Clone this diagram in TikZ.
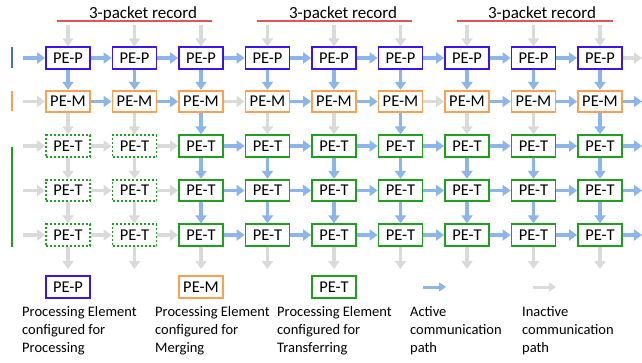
\documentclass[tikz,border=0pt]{standalone}
\usepackage{fontspec}
\setmainfont{Carlito}
\usetikzlibrary{arrows.meta}
\definecolor{pcol}{RGB}{60,20,240}
\definecolor{mcol}{RGB}{250,160,80}
\definecolor{tcol}{RGB}{30,160,30}
\definecolor{acol}{RGB}{140,182,235}
\definecolor{icol}{RGB}{218,218,218}
\definecolor{rcol}{RGB}{225,85,85}
\definecolor{bcol}{RGB}{70,100,240}
\begin{document}
\begin{tikzpicture}[x=1pt,y=-1pt,
  pebox/.style={draw, line width=1.8pt, minimum width=44pt, minimum height=21.5pt, inner sep=0pt, fill=white, font=\fontsize{16.5}{18}\selectfont},
  pep/.style={pebox, draw=pcol},
  pem/.style={pebox, draw=mcol},
  pet/.style={pebox, draw=tcol},
  petoff/.style={pebox, draw=tcol, dash pattern=on 2pt off 2pt},
  link/.style={line width=3.5pt, -{Triangle[width=11pt,length=8pt]}},
  act/.style={link, draw=acol},
  inact/.style={link, draw=icol},
  legarrow/.style={line width=3pt, -{Triangle[width=9pt,length=7pt]}},
  sidebar/.style={line width=2.5pt},
  recline/.style={line width=2.5pt, draw=rcol},
  rectext/.style={anchor=base, font=\fontsize{17}{20}\selectfont},
  legtext/.style={anchor=north west, align=left, inner sep=0pt, font=\fontsize{14.5}{18}\selectfont}
]
\useasboundingbox (0,0) rectangle (642,362);

% record headings
\foreach \i/\a/\b/\t in {1/57/212/143, 2/257/412/343, 3/457/613/542} {
  \coordinate (ra\i) at (\a,21);
  \coordinate (rb\i) at (\b,21);
  \node[rectext] (rh\i) at (\t,18.5) {3-packet record};
  \draw[recline] (ra\i) -- (rb\i);
}

% side bars
\coordinate (bp1) at (12,47);  \coordinate (bp2) at (12,68);
\coordinate (bm1) at (12,91);  \coordinate (bm2) at (12,111);
\coordinate (bt1) at (12,147); \coordinate (bt2) at (12,247);
\draw[sidebar, bcol] (bp1) -- (bp2);
\draw[sidebar, mcol] (bm1) -- (bm2);
\draw[sidebar, tcol] (bt1) -- (bt2);

% nodes
\foreach \c in {1,...,9} {
  \pgfmathsetmacro{\x}{68+66.5*(\c-1)}
  \node[pep] (n1-\c) at (\x,58) {PE-P};
  \node[pem] (n2-\c) at (\x,101.5) {PE-M};
  \foreach \r/\y in {3/146,4/190.5,5/235} {
    \ifnum\c<3
      \node[petoff] (n\r-\c) at (\x,\y) {PE-T};
    \else
      \node[pet] (n\r-\c) at (\x,\y) {PE-T};
    \fi
  }
  \coordinate (t-\c) at (\x,25);
  \coordinate (b-\c) at (\x,269);
  \draw[inact] (t-\c) -- (n1-\c);
  \draw[inact] (n5-\c) -- (b-\c);
  \draw[act] (n1-\c) -- (n2-\c);
}

% left inputs and right outputs
\foreach \r/\y in {1/58,2/101.5,3/146,4/190.5,5/235} {
  \coordinate (l-\r) at (23,\y);
  \coordinate (o-\r) at (642,\y);
}
\draw[act] (l-1) -- (n1-1);
\foreach \r in {2,3,4,5} { \draw[inact] (l-\r) -- (n\r-1); }
\draw[inact] (n1-9) -- (o-1);
\foreach \r in {2,3,4,5} { \draw[act] (n\r-9) -- (o-\r); }

% horizontal links
\foreach \c [evaluate=\c as \d using int(\c+1)] in {1,...,8} {
  \draw[act] (n1-\c) -- (n1-\d);
}
\foreach \c/\s in {1/act,2/act,3/inact,4/act,5/act,6/inact,7/act,8/act} {
  \pgfmathtruncatemacro{\d}{\c+1}
  \draw[\s] (n2-\c) -- (n2-\d);
}
\foreach \r in {3,4,5} {
  \foreach \c in {1,...,8} {
    \pgfmathtruncatemacro{\d}{\c+1}
    \ifnum\c<3
      \draw[inact] (n\r-\c) -- (n\r-\d);
    \else
      \draw[act] (n\r-\c) -- (n\r-\d);
    \fi
  }
}

% vertical links row 2 -> 3
\foreach \c/\s in {1/inact,2/inact,3/act,4/inact,5/inact,6/act,7/inact,8/inact,9/act} {
  \draw[\s] (n2-\c) -- (n3-\c);
}
% vertical links rows 3->4, 4->5
\foreach \r in {3,4} {
  \foreach \c in {1,...,9} {
    \pgfmathtruncatemacro{\s}{\r+1}
    \ifnum\c<3
      \draw[inact] (n\r-\c) -- (n\s-\c);
    \else
      \draw[act] (n\r-\c) -- (n\s-\c);
    \fi
  }
}

% legend
\node[pep] (lp) at (68,287) {PE-P};
\node[pem] (lm) at (201,287) {PE-M};
\node[pet] (lt) at (334,287) {PE-T};
\coordinate (la1) at (423,287); \coordinate (la2) at (446,287);
\coordinate (li1) at (533,287); \coordinate (li2) at (556,287);
\draw[legarrow, acol] (la1) -- (la2);
\draw[legarrow, icol] (li1) -- (li2);

\node[legtext] (tp) at (22,306) {Processing Element\\configured for\\Processing};
\node[legtext] (tm) at (155,306) {Processing Element\\configured for\\Merging};
\node[legtext] (tt) at (277,306) {Processing Element\\configured for\\Transferring};
\node[legtext] (ta) at (410,306) {Active\\communication\\path};
\node[legtext] (ti) at (522,306) {Inactive\\communication\\path};
\end{tikzpicture}
\end{document}
